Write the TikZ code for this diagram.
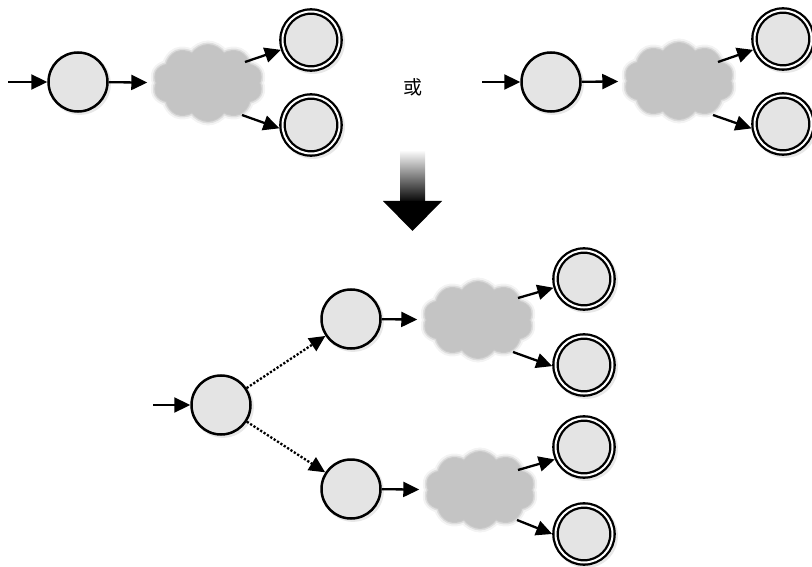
\documentclass[tikz,border=0pt]{standalone}
\usepackage{fontspec}
\newfontfamily\cjk{Noto Sans CJK SC}
\usetikzlibrary{arrows.meta,shapes.symbols,shadows}
\definecolor{statefill}{RGB}{228,228,228}
\definecolor{cloudgray}{RGB}{196,196,196}
\tikzset{
  state/.style={circle,draw=black,line width=2.5pt,fill=statefill,minimum size=59pt,inner sep=0pt,
    drop shadow={shadow xshift=1.8pt,shadow yshift=-1.8pt,shadow scale=1.05,opacity=0.18}},
  accept/.style={circle,draw=black,line width=2.3pt,double=white,double distance=2pt,fill=statefill,
    minimum size=57pt,inner sep=0pt,outer sep=3.3pt,
    drop shadow={shadow xshift=1.8pt,shadow yshift=-1.8pt,shadow scale=1.12,opacity=0.18}},
  fog/.style={cloud,cloud puffs=10,cloud puff arc=115,aspect=1.4,fill=cloudgray,draw=none,inner sep=0pt,
    minimum width=108pt,minimum height=76pt,
    preaction={draw=cloudgray,line width=9pt,draw opacity=0.2},
    preaction={draw=cloudgray,line width=5pt,draw opacity=0.45},
    preaction={draw=cloudgray,line width=2pt,draw opacity=0.8}},
  arr/.style={-{Triangle[length=16pt,width=15pt]},line width=2.3pt},
  dotarr/.style={arr,dash pattern=on 2.2pt off 1.8pt},
}
\begin{document}
\begin{tikzpicture}[x=1pt,y=-1pt]
\useasboundingbox (0,0) rectangle (812,567);
% ---- top left group
\node[state] (s1) at (78,82) {};
\node[fog] (c1) at (208,83) {};
\node[accept] (a1u) at (311,40) {};
\node[accept] (a1d) at (311,125) {};
\coordinate (in1) at (8,82);
\coordinate (o1u) at (245,62);
\coordinate (o1d) at (242,115);
\draw[arr] (in1) -- (s1);
\draw[arr,shorten >=9pt] (s1) -- (c1);
\draw[arr] (o1u) -- (a1u.198);
\draw[arr] (o1d) -- (a1d.186);
% ---- or
\node (or) at (413,87) {\cjk\fontsize{19pt}{19pt}\selectfont 或};
% ---- top right group
\node[state] (s2) at (551,82) {};
\node[fog] (c2) at (679,81) {};
\node[accept] (a2u) at (783,39) {};
\node[accept] (a2d) at (783,124) {};
\coordinate (in2) at (482,82);
\coordinate (o2u) at (718,62);
\coordinate (o2d) at (713,115);
\draw[arr] (in2) -- (s2);
\draw[arr,shorten >=9pt] (s2) -- (c2);
\draw[arr] (o2u) -- (a2u.200);
\draw[arr] (o2d) -- (a2d.188);
% ---- big down arrow
\shade[top color=gray!8,bottom color=black] (400,152) rectangle (425,203);
\fill[black] (383,201) -- (442,201) -- (412.5,231) -- cycle;
% ---- bottom group
\node[state] (s3) at (221,405) {};
\node[state] (m1) at (351,319) {};
\node[state] (m2) at (351,489) {};
\node[fog] (cu) at (478,320) {};
\node[fog] (cl) at (480,490) {};
\node[accept] (b1) at (584,279) {};
\node[accept] (b2) at (584,365) {};
\node[accept] (b3) at (584,447) {};
\node[accept] (b4) at (584,534) {};
\coordinate (in3) at (153,405);
\coordinate (ou1) at (518,298);
\coordinate (ou2) at (513,352);
\coordinate (ol1) at (518,470);
\coordinate (ol2) at (517,520);
\draw[arr] (in3) -- (s3);
\draw[dotarr] (s3) -- (m1);
\draw[dotarr] (s3) -- (m2);
\draw[arr,shorten >=9pt] (m1) -- (cu);
\draw[arr,shorten >=9pt] (m2) -- (cl);
\draw[arr] (ou1) -- (b1.196);
\draw[arr] (ou2) -- (b2.182);
\draw[arr] (ol1) -- (b3.203);
\draw[arr] (ol2) -- (b4.180);
\end{tikzpicture}
\end{document}
